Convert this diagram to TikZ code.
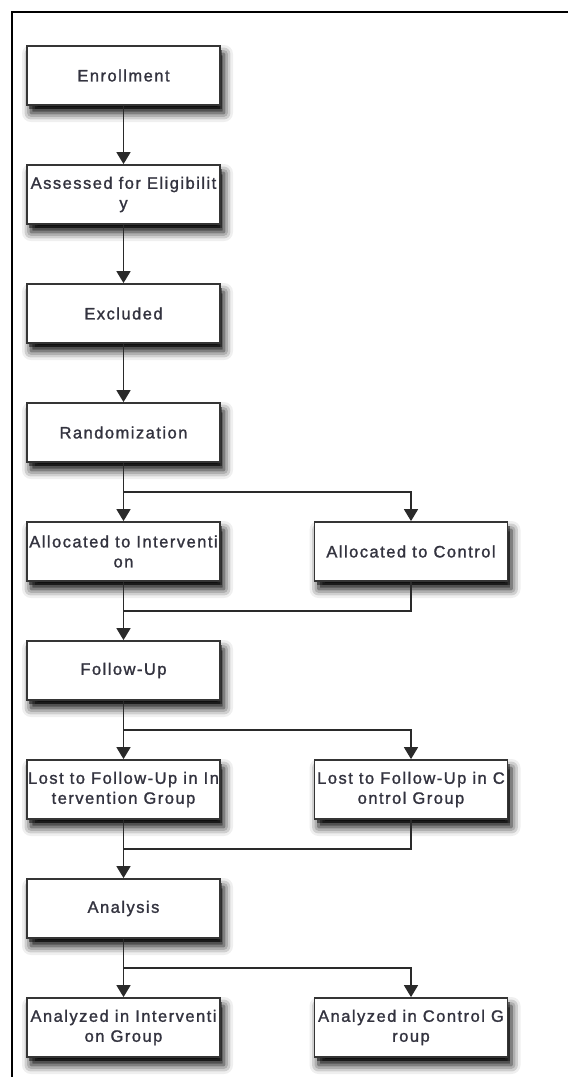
\documentclass[tikz,border=0pt]{standalone}
\usepackage{fontspec}
\usepackage{tikz}
\usetikzlibrary{arrows.meta,positioning,calc,shadows,shadows.blur}
\usepackage{xcolor}
\definecolor{Edge}{HTML}{353535}
\definecolor{Wire}{HTML}{2A2A2A}
\definecolor{Label}{HTML}{33333F}
\newfontfamily\boxfont[LetterSpace=9,FakeBold=1.4]{Liberation Sans}

\begin{document}
\begin{tikzpicture}[x=1pt,y=-1pt,>={Triangle[length=12pt,width=14pt]},
  stage/.style={rectangle,draw=Edge,line width=1.8pt,fill=white,
    minimum width=193pt,minimum height=59pt,inner sep=0pt,
    align=center,text=Label,
    font=\boxfont\fontsize{16.5}{20}\selectfont,
    blur shadow={shadow xshift=4pt,shadow yshift=-8pt,
      shadow blur radius=9pt,shadow opacity=100},
    drop shadow={shadow xshift=2pt,shadow yshift=-4pt,
      opacity=0.45,fill=black}},
  link/.style={->,Wire,line width=1.6pt}]
  \useasboundingbox (0,0) rectangle (568,1077);
  % frame of the cut-out
  \draw[line width=1.6pt] (12,1077) -- (12,12) -- (568,12);
  % main column
  \node[stage] (enroll) at (123.5,75.5) {Enrollment};
  \node[stage] (assess) at (123.5,194.5) {Assessed for Eligibilit\\y};
  \node[stage] (excl) at (123.5,313.5) {Excluded};
  \node[stage] (rand) at (123.5,432.5) {Randomization};
  \node[stage] (allocI) at (123.5,551.5) {Allocated to Interventi\\on};
  \node[stage] (allocC) at (411,551.5) {Allocated to Control};
  \node[stage] (follow) at (123.5,670.5) {Follow-Up};
  \node[stage] (lostI) at (123.5,789.5) {Lost to Follow-Up in In\\tervention Group};
  \node[stage] (lostC) at (411,789.5) {Lost to Follow-Up in C\\ontrol Group};
  \node[stage] (analysis) at (123.5,908.5) {Analysis};
  \node[stage] (anaI) at (123.5,1027.5) {Analyzed in Interventi\\on Group};
  \node[stage] (anaC) at (411,1027.5) {Analyzed in Control G\\roup};
  % split and merge points
  \coordinate (split1) at ($(rand.south)!0.5!(allocI.north)$);
  \coordinate (merge1) at ($(allocI.south)!0.5!(follow.north)$);
  \coordinate (split2) at ($(follow.south)!0.5!(lostI.north)$);
  \coordinate (merge2) at ($(lostI.south)!0.5!(analysis.north)$);
  \coordinate (split3) at ($(analysis.south)!0.5!(anaI.north)$);
  \draw[link] (enroll) -- (assess);
  \draw[link] (assess) -- (excl);
  \draw[link] (excl) -- (rand);
  \draw[link] (rand) -- (allocI);
  \draw[link] (split1) -| (allocC);
  \draw[link] (allocI) -- (follow);
  \draw[Wire,line width=1.6pt] (allocC) |- (merge1);
  \draw[link] (follow) -- (lostI);
  \draw[link] (split2) -| (lostC);
  \draw[link] (lostI) -- (analysis);
  \draw[Wire,line width=1.6pt] (lostC) |- (merge2);
  \draw[link] (analysis) -- (anaI);
  \draw[link] (split3) -| (anaC);
\end{tikzpicture}
\end{document}
